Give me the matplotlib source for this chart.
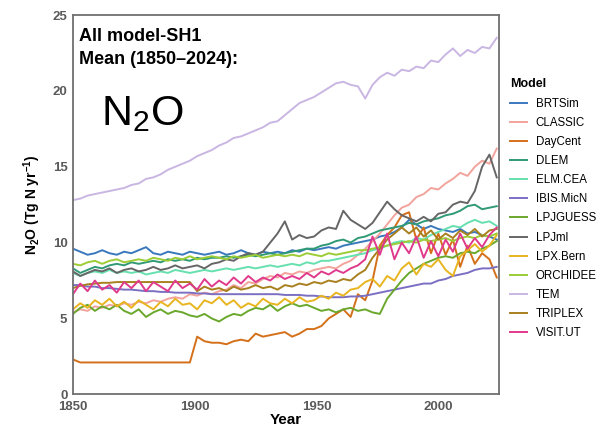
import numpy as np
import matplotlib

matplotlib.use("Agg")

import matplotlib.pyplot as plt

plt.rcParams["font.family"] = ["Liberation Sans", "DejaVu Sans"]
plt.rcParams["mathtext.fontset"] = "custom"
plt.rcParams["mathtext.rm"] = "Liberation Sans"
plt.rcParams["mathtext.bf"] = "Liberation Sans:bold"

# sampled every 3 years, 1850-2024
years = np.arange(1850, 2025, 3)

brtsim = [9.6, 9.4, 9.2, 9.3, 9.5, 9.3, 9.2, 9.4, 9.3, 9.5,
          9.7, 9.3, 9.2, 9.4, 9.3, 9.2, 9.4, 9.3, 9.2, 9.3,
          9.4, 9.2, 9.3, 9.5, 9.3, 9.2, 9.4, 9.3, 9.4, 9.3,
          9.5, 9.4, 9.6, 9.5, 9.6, 9.7, 9.6, 9.8, 9.9, 10.0,
          10.1, 10.2, 10.4, 10.5, 10.7, 11.0, 11.5, 11.2, 10.9, 11.1,
          10.9, 10.8, 10.7, 10.9, 10.6, 10.7, 10.5, 10.4, 10.2]
classic = [5.4, 5.6, 5.5, 5.8, 5.7, 5.9, 5.8, 6.0, 5.9, 6.1,
           6.0, 6.2, 6.1, 6.3, 6.4, 6.3, 6.6, 6.5, 6.7, 6.6,
           6.8, 6.9, 7.2, 7.0, 7.4, 7.3, 7.6, 7.8, 7.7, 8.0,
           7.9, 8.1, 8.0, 8.2, 8.3, 8.4, 8.3, 8.6, 8.8, 9.2,
           9.6, 10.1, 10.6, 11.2, 11.8, 12.3, 12.5, 13.0, 13.2, 13.6,
           13.5, 13.9, 14.2, 14.6, 14.4, 15.0, 15.4, 15.2, 16.2]
daycent = [2.3, 2.1, 2.1, 2.1, 2.1, 2.1, 2.1, 2.1, 2.1, 2.1,
           2.1, 2.1, 2.1, 2.1, 2.1, 2.1, 2.1, 3.8, 3.5, 3.4,
           3.4, 3.3, 3.5, 3.6, 3.5, 4.0, 3.8, 3.9, 4.0, 4.1,
           3.8, 4.0, 4.3, 4.3, 4.5, 5.0, 5.3, 5.6, 5.1, 6.6,
           6.2, 7.5, 9.8, 10.5, 11.0, 11.8, 12.0, 10.2, 11.0, 9.3,
           10.6, 9.2, 10.2, 8.4, 9.8, 8.6, 9.3, 8.9, 7.7]
dlem = [8.3, 8.0, 8.2, 8.4, 8.3, 8.5, 8.6, 8.5, 8.7, 8.6,
        8.7, 8.8, 8.7, 8.9, 8.8, 8.9, 8.8, 9.0, 8.9, 9.0,
        9.0, 9.1, 9.0, 9.1, 9.2, 9.1, 9.2, 9.3, 9.2, 9.3,
        9.4, 9.5, 9.6, 9.6, 9.8, 9.9, 10.1, 10.2, 10.0, 10.3,
        10.4, 10.6, 10.8, 10.9, 11.0, 11.1, 11.3, 11.2, 11.4, 11.5,
        11.6, 11.8, 11.9, 12.1, 12.4, 12.5, 12.2, 12.3, 12.4]
elm_cea = [8.0, 7.8, 8.0, 8.1, 8.0, 8.2, 8.0, 8.1, 8.0, 8.1,
           7.9, 8.0, 8.1, 8.0, 8.2, 8.1, 8.0, 8.1, 8.2, 8.1,
           8.2, 8.3, 8.2, 8.3, 8.4, 8.3, 8.4, 8.5, 8.4, 8.5,
           8.6, 8.5, 8.7, 8.6, 8.8, 8.8, 8.9, 9.0, 9.1, 9.2,
           9.3, 9.5, 9.6, 9.8, 10.0, 10.1, 10.0, 10.3, 10.2, 10.5,
           10.7, 10.9, 11.1, 11.0, 11.3, 11.5, 11.3, 11.4, 11.1]
ibis = [7.2, 7.2, 7.1, 7.1, 7.0, 7.0, 6.95, 6.9, 6.9, 6.85,
        6.8, 6.8, 6.75, 6.75, 6.7, 6.7, 6.7, 6.65, 6.65, 6.6,
        6.6, 6.6, 6.6, 6.6, 6.6, 6.6, 6.6, 6.6, 6.6, 6.55,
        6.55, 6.55, 6.5, 6.5, 6.45, 6.4, 6.4, 6.4, 6.45, 6.45,
        6.5, 6.6, 6.7, 6.8, 6.9, 7.0, 7.1, 7.2, 7.3, 7.3,
        7.5, 7.6, 7.8, 7.9, 8.0, 8.2, 8.3, 8.3, 8.4]
lpjguess = [5.3, 5.7, 5.9, 5.5, 5.8, 5.6, 5.9, 5.5, 5.3, 5.6,
            5.1, 5.4, 5.6, 5.3, 5.5, 5.4, 5.2, 5.1, 5.3, 5.0,
            4.8, 5.1, 5.3, 5.2, 5.5, 5.7, 5.6, 5.9, 5.5, 5.8,
            6.0, 5.8, 5.9, 5.7, 5.5, 5.6, 5.4, 5.6, 5.7, 5.5,
            5.6, 5.4, 5.3, 6.3, 6.9, 7.5, 8.0, 8.3, 8.6, 8.8,
            9.0, 9.1, 9.0, 9.3, 9.4, 9.3, 9.6, 9.8, 10.1]
lpjml = [8.1, 7.8, 8.0, 8.2, 8.1, 8.3, 8.0, 8.2, 8.3, 8.1,
         8.2, 8.4, 8.2, 8.3, 8.5, 8.3, 8.4, 8.5, 8.3, 8.6,
         8.7, 8.9, 8.8, 9.1, 9.3, 9.2, 9.4, 10.0, 10.6, 11.4,
         10.2, 10.5, 10.3, 10.4, 10.8, 11.0, 10.9, 12.1, 11.5, 11.2,
         10.9, 11.3, 12.0, 12.7, 12.2, 11.8, 11.6, 11.4, 11.7, 11.4,
         11.9, 12.0, 12.5, 12.7, 12.6, 13.4, 15.0, 15.8, 14.3]
lpx_bern = [5.6, 6.0, 5.7, 6.2, 5.9, 6.3, 5.8, 6.1, 5.7, 6.2,
            5.9, 5.6, 6.1, 5.8, 6.3, 5.9, 6.0, 5.6, 6.2, 6.0,
            6.4, 5.9, 6.2, 5.7, 6.0, 5.8, 6.3, 6.0, 5.9, 6.3,
            6.0, 6.4, 6.1, 6.2, 6.5, 6.3, 6.7, 6.5, 6.9, 7.0,
            7.4, 7.6, 7.1, 7.8, 7.5, 8.3, 8.7, 7.9, 8.6, 8.4,
            8.9, 8.2, 7.8, 9.1, 9.5, 9.9, 9.4, 9.8, 10.5]
orchidee = [8.6, 8.5, 8.7, 8.8, 8.6, 8.8, 8.9, 8.7, 8.8, 8.9,
            8.8, 9.0, 8.9, 8.8, 9.0, 8.9, 9.1, 8.9, 9.0, 9.1,
            9.0, 8.9, 9.1, 9.0, 9.1, 9.2, 9.0, 9.1, 9.2, 9.1,
            9.2, 9.1, 9.3, 9.2, 9.1, 9.3, 9.2, 9.3, 9.4, 9.5,
            9.5, 9.6, 9.7, 9.8, 9.9, 10.0, 10.1, 10.0, 10.2, 10.1,
            10.2, 10.3, 10.1, 10.3, 10.4, 10.3, 10.5, 10.4, 10.6]
tem = [12.8, 12.9, 13.1, 13.2, 13.3, 13.4, 13.5, 13.6, 13.8, 13.9,
       14.2, 14.3, 14.5, 14.8, 15.0, 15.2, 15.4, 15.7, 15.9, 16.1,
       16.4, 16.6, 16.9, 17.0, 17.2, 17.4, 17.6, 17.9, 18.0, 18.4,
       18.8, 19.2, 19.4, 19.6, 19.9, 20.2, 20.5, 20.6, 20.4, 20.3,
       19.5, 20.4, 20.9, 21.2, 21.0, 21.4, 21.3, 21.6, 21.5, 22.0,
       21.9, 22.4, 22.8, 22.3, 22.7, 22.5, 22.9, 22.8, 23.5]
triplex = [7.0, 7.15, 7.25, 7.3, 7.35, 7.35, 7.4, 7.4, 7.4, 7.4,
           7.4, 7.4, 7.4, 7.4, 7.4, 7.4, 7.4, 6.8, 7.1, 6.9,
           7.0, 6.8, 7.1, 6.9, 7.0, 7.2, 7.0, 7.1, 6.9, 7.2,
           7.1, 7.3, 7.2, 7.4, 7.3, 7.5, 7.4, 7.6, 7.5, 7.9,
           8.2, 9.0, 9.6, 10.2, 10.6, 11.0, 10.6, 11.0, 10.4, 10.8,
           10.2, 10.6, 10.3, 10.8, 10.5, 10.9, 10.4, 10.8, 10.9]
visit_ut = [6.6, 7.3, 6.8, 7.5, 6.9, 7.2, 6.7, 7.4, 7.0, 7.5,
            6.8, 7.4, 7.1, 6.8, 7.5, 7.0, 7.3, 6.9, 7.6, 7.1,
            7.5, 7.2, 7.7, 7.3, 7.8, 7.4, 7.7, 7.5, 7.9, 7.6,
            7.8, 7.6, 8.0, 7.7, 8.1, 7.9, 8.2, 8.0, 8.3, 8.5,
            8.9, 10.4, 9.2, 10.6, 8.9, 10.0, 9.3, 10.4, 9.0, 10.1,
            9.1, 10.2, 9.4, 10.6, 9.6, 10.3, 9.7, 10.5, 11.0]

model_names = ["BRTSim", "CLASSIC", "DayCent", "DLEM", "ELM.CEA", "IBIS.MicN",
               "LPJGUESS", "LPJml", "LPX.Bern", "ORCHIDEE", "TEM", "TRIPLEX",
               "VISIT.UT"]
model_values = [brtsim, classic, daycent, dlem, elm_cea, ibis, lpjguess,
                lpjml, lpx_bern, orchidee, tem, triplex, visit_ut]
model_colors = ["#3a78bd", "#f2a49c", "#d4701a", "#2f9a75", "#66e0ae",
                "#7a6fc2", "#6aa82c", "#666666", "#e8b520", "#9ccc36",
                "#c9b6e2", "#a8801e", "#e03a8c"]

fig = plt.figure(figsize=(6.08, 4.30), dpi=100)
ax = fig.add_axes([0.12, 0.083, 0.701, 0.882])

for name, vals, col in zip(model_names, model_values, model_colors):
    ax.plot(years, vals, color=col, linewidth=1.4, label=name)

ax.set_xlim(1850, 2025)
ax.set_ylim(0, 25)
ax.set_xticks([1850, 1900, 1950, 2000])
ax.set_yticks([0, 5, 10, 15, 20, 25])
ax.tick_params(length=0, labelsize=9.5, labelcolor="#5a5a5a")
ax.tick_params(axis="x", pad=5)
ax.tick_params(axis="y", pad=4)
for lab in ax.get_xticklabels() + ax.get_yticklabels():
    lab.set_fontweight("bold")

for sp in ax.spines.values():
    sp.set_color("#707070")
    sp.set_linewidth(1.3)

ax.set_xlabel("Year", fontsize=11, fontweight="bold", labelpad=0)
ax.set_ylabel(r"N$_\mathbf{2}$O (Tg N yr$^{\mathbf{-1}}$)", fontsize=10,
              fontweight="bold", labelpad=7)

ax.text(0.015, 0.965, "All model-SH1", transform=ax.transAxes, fontsize=13,
        fontweight="bold", ha="left", va="top")
ax.text(0.015, 0.905, "Mean (1850\u20132024):", transform=ax.transAxes,
        fontsize=13, fontweight="bold", ha="left", va="top")
ax.text(0.065, 0.71, r"N$_2$O", transform=ax.transAxes, fontsize=31,
        ha="left", va="baseline")

leg = ax.legend(title="Model", loc="upper left", bbox_to_anchor=(1.015, 0.845),
                frameon=False, fontsize=8.3, handlelength=1.5, labelspacing=0.62,
                handletextpad=0.7, borderaxespad=0, alignment="left")
leg.get_title().set_fontweight("bold")
leg.get_title().set_fontsize(9)

fig.savefig("out.png", dpi=100)
